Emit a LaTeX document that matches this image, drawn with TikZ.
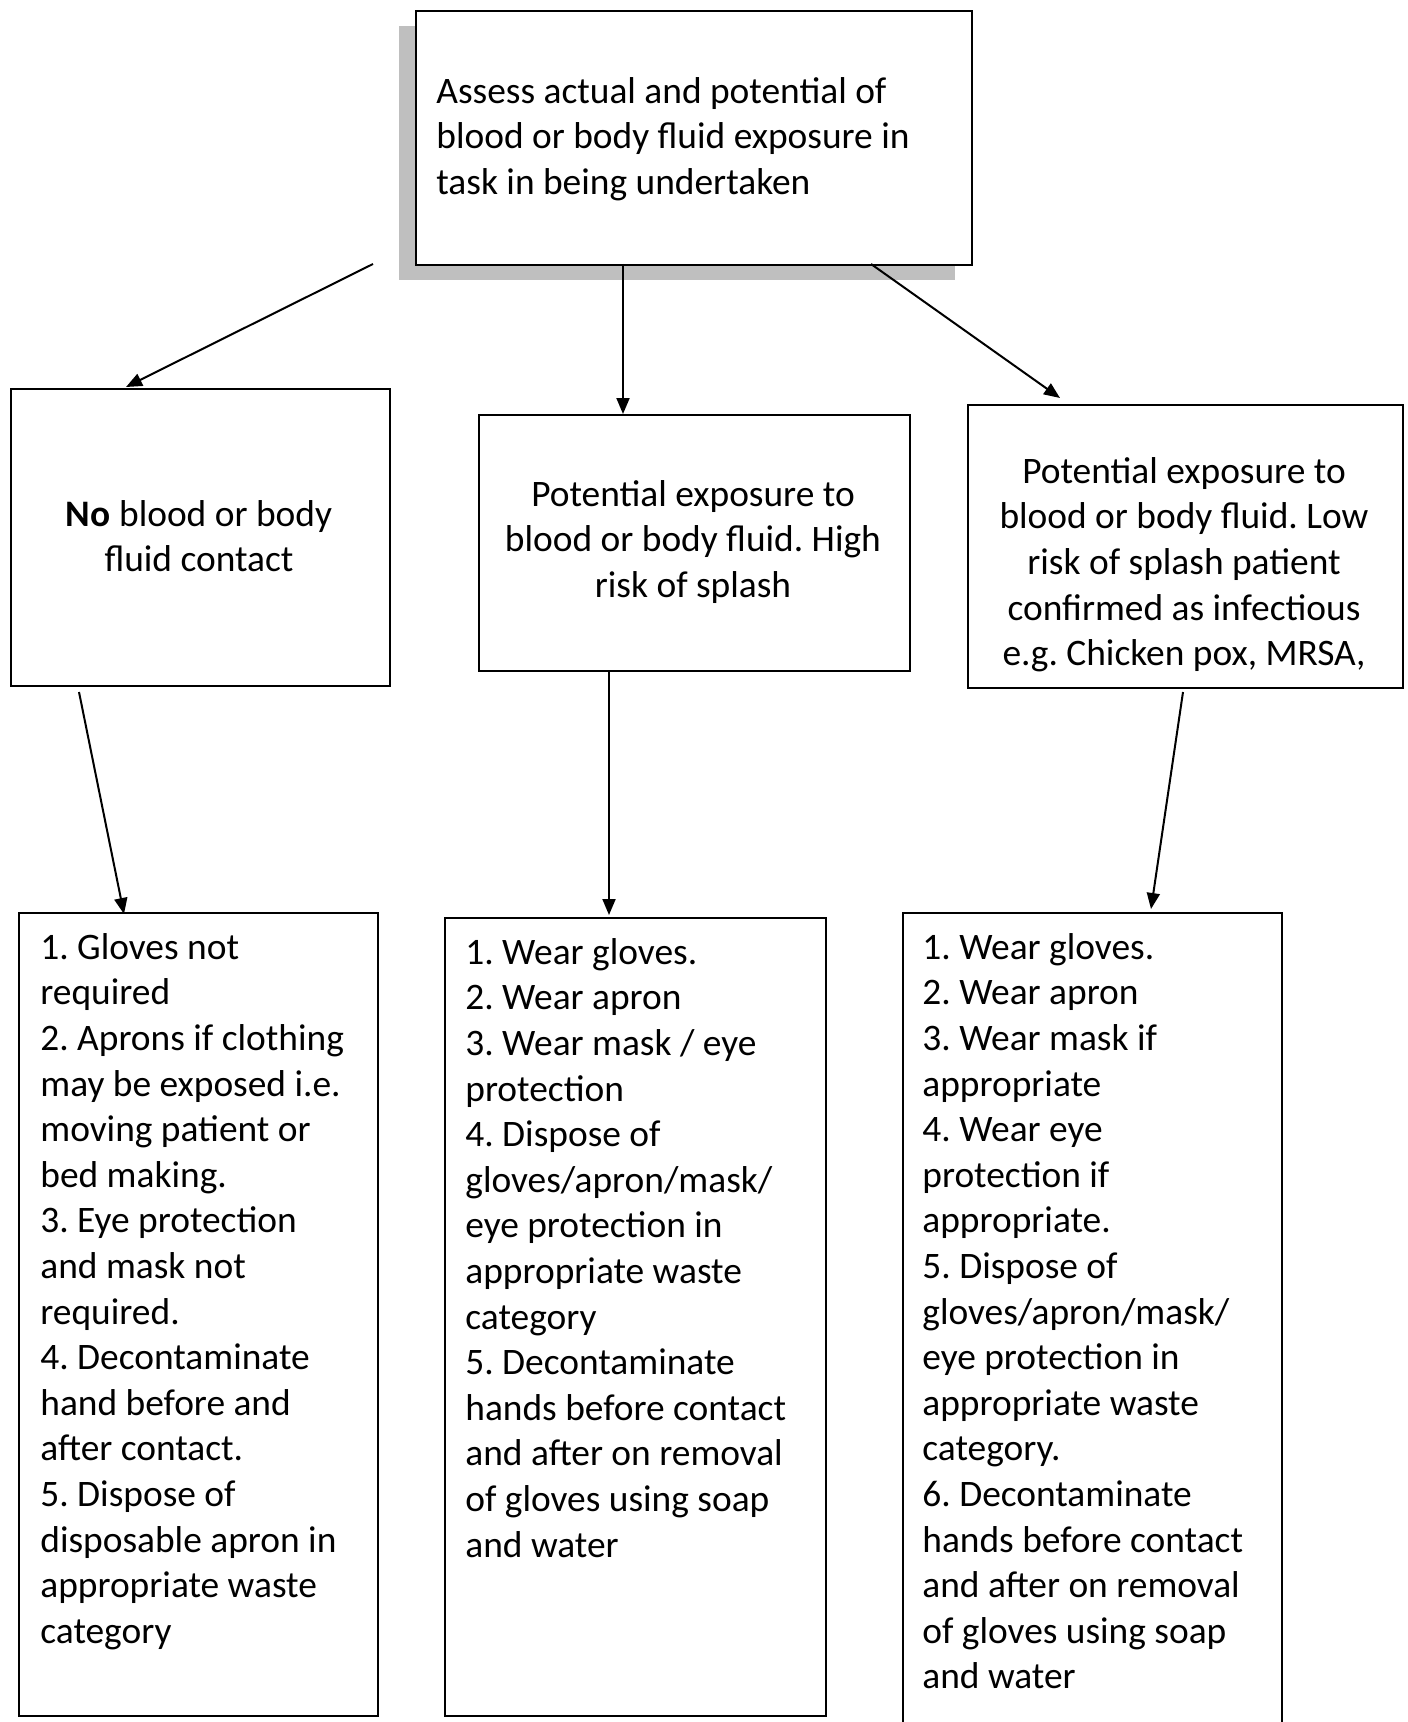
\documentclass[tikz,border=0pt]{standalone}
\usepackage{fontspec}
\setmainfont{Carlito}
\frenchspacing
\usetikzlibrary{arrows.meta}
\definecolor{shadowgray}{RGB}{191,191,191}
\begin{document}
\begin{tikzpicture}[x=0.5pt,y=-0.5pt,
  box/.style={draw=black, line width=1pt, fill=white, inner sep=0pt, anchor=north west},
  txt/.style={inner sep=0pt, font=\fontsize{18.7}{22.8}\selectfont},
  ltxt/.style={txt, anchor=north west, align=left},
  ctxt/.style={txt, anchor=north, align=center},
  arr/.style={line width=1pt, -{Triangle[length=8pt,width=6.5pt]}}]
\useasboundingbox (0,0) rectangle (1407,1722);
\fill[white] (0,0) rectangle (1407,1722);
% shadow of top box
\fill[shadowgray] (398.5,26.5) rectangle (954.5,280.5);
% boxes
\node[box, minimum width=278pt, minimum height=127pt] (top) at (415,10) {};
\node[box, minimum width=189.5pt, minimum height=148.5pt] (l1) at (10,388) {};
\node[box, minimum width=215.5pt, minimum height=128pt] (m1) at (478,414) {};
\node[box, minimum width=217.5pt, minimum height=141.5pt] (r1) at (967,404) {};
\node[box, minimum width=179.5pt, minimum height=401.5pt] (l2) at (18,912) {};
\node[box, minimum width=190.5pt, minimum height=399pt] (m2) at (444,917) {};
\node[box, minimum width=189.5pt, minimum height=414pt] (r2) at (902,912) {};
% texts
\node[ltxt] (toptxt) at (436,77) {Assess actual and potential of\\blood or body fluid exposure in\\task in being undertaken};
\node[ctxt] (l1txt) at (199,500) {\textbf{No} blood or body\\fluid contact};
\node[ctxt] (m1txt) at (693,480) {Potential exposure to\\blood or body fluid. High\\risk of splash};
\node[ctxt] (r1txt) at (1184,457) {Potential exposure to\\blood or body fluid. Low\\risk of splash patient\\confirmed as infectious\\e.g. Chicken pox, MRSA,};
\node[ltxt] (l2txt) at (40,933) {1. Gloves not\\required\\2. Aprons if clothing\\may be exposed i.e.\\moving patient or\\bed making.\\3. Eye protection\\and mask not\\required.\\4. Decontaminate\\hand before and\\after contact.\\5. Dispose of\\disposable apron in\\appropriate waste\\category};
\node[ltxt] (m2txt) at (465,938) {1. Wear gloves.\\2. Wear apron\\3. Wear mask / eye\\protection\\4. Dispose of\\gloves/apron/mask/\\eye protection in\\appropriate waste\\category\\5. Decontaminate\\hands before contact\\and after on removal\\of gloves using soap\\and water};
\node[ltxt] (r2txt) at (922,933) {1. Wear gloves.\\2. Wear apron\\3. Wear mask if\\appropriate\\4. Wear eye\\protection if\\appropriate.\\5. Dispose of\\gloves/apron/mask/\\eye protection in\\appropriate waste\\category.\\6. Decontaminate\\hands before contact\\and after on removal\\of gloves using soap\\and water};
% arrow end points
\coordinate (a1s) at (373,264);
\coordinate (a1e) at (126,387);
\coordinate (a2s) at (623,264);
\coordinate (a2e) at (623,414);
\coordinate (a3s) at (871,264);
\coordinate (a3e) at (1060,398);
\coordinate (a4s) at (79,692);
\coordinate (a4e) at (124,914);
\coordinate (a5s) at (609,670);
\coordinate (a5e) at (609,915);
\coordinate (a6s) at (1183,692);
\coordinate (a6e) at (1151,909);
\draw[arr] (a1s) -- (a1e);
\draw[arr] (a2s) -- (a2e);
\draw[arr] (a3s) -- (a3e);
\draw[arr] (a4s) -- (a4e);
\draw[arr] (a5s) -- (a5e);
\draw[arr] (a6s) -- (a6e);
\end{tikzpicture}
\end{document}
